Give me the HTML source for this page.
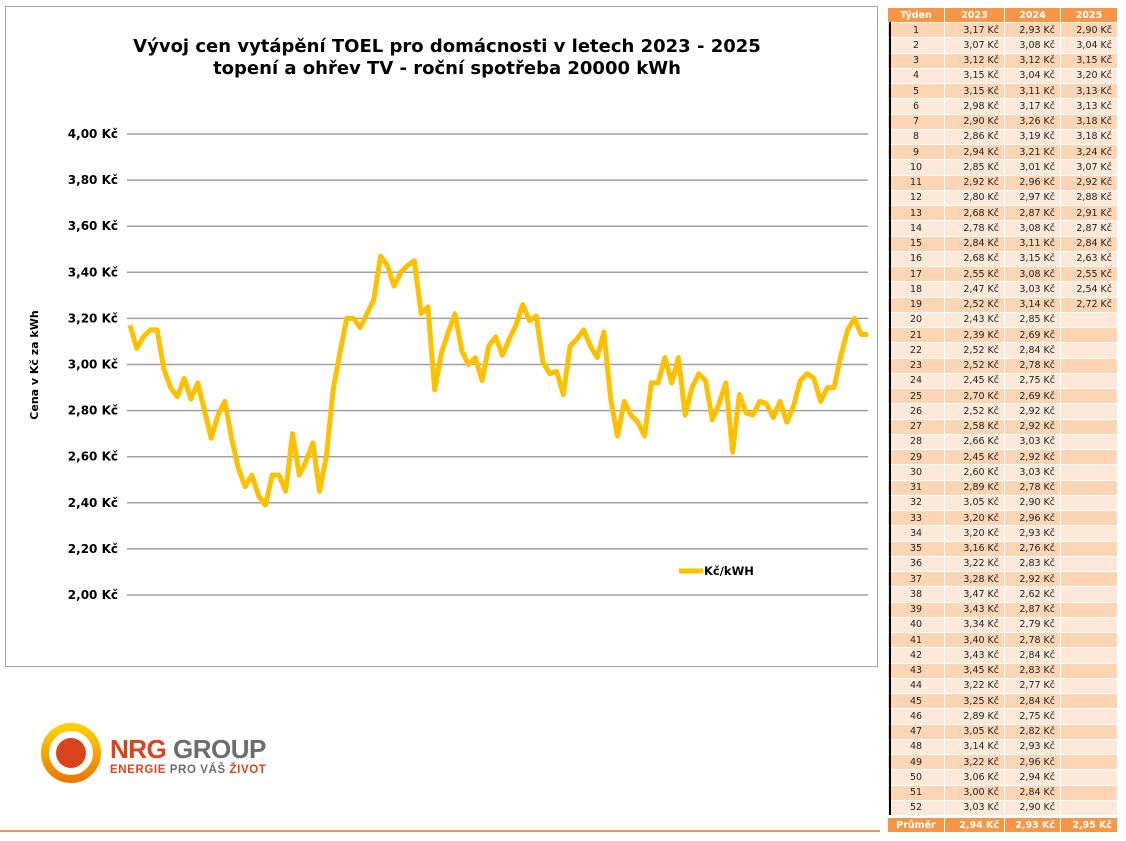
<!DOCTYPE html>
<html><head><meta charset="utf-8"><style>
body{margin:0;width:1126px;height:841px;background:#fff;position:relative;font-family:"Liberation Sans","DejaVu Sans",sans-serif;overflow:hidden}
#chartbox{position:absolute;left:5px;top:6px;width:873px;height:661px;border:1px solid #a6a6a6;box-sizing:border-box}
.cell{position:absolute;box-sizing:border-box;font-family:"DejaVu Sans",sans-serif;font-size:9.5px;color:#222;display:flex;align-items:center;justify-content:center;border-right:1px solid #fff;border-bottom:1px solid #fff}
.v{justify-content:flex-end;padding-right:5px}
.h{background:#f79646;color:#fff;font-weight:bold}
</style></head><body>
<div id="chartbox"></div>
<svg id="chart" width="880" height="670" style="position:absolute;left:0;top:0">
<text x="447" y="52" text-anchor="middle" font-family="DejaVu Sans" font-size="18" font-weight="bold" fill="#000">Vývoj cen vytápění TOEL pro domácnosti v letech 2023 - 2025</text>
<text x="447" y="74" text-anchor="middle" font-family="DejaVu Sans" font-size="18" font-weight="bold" fill="#000">topení a ohřev TV - roční spotřeba 20000 kWh</text>
<text transform="translate(38,365) rotate(-90)" text-anchor="middle" font-family="DejaVu Sans" font-size="11" font-weight="bold">Cena v Kč za kWh</text>
<g id="grid"></g><g id="yt"></g>
<polyline id="line" fill="none" stroke="#ffc000" stroke-width="5" stroke-linejoin="round"/>
<line x1="679" y1="571" x2="703" y2="571" stroke="#ffc000" stroke-width="5"/>
<text x="704" y="575" font-family="DejaVu Sans" font-size="11.5" font-weight="bold">Kč/kWH</text>
</svg>
<div id="tbl"></div>
<div style="position:absolute;left:889px;top:22px;width:2px;height:793px;background:#000"></div>
<div style="position:absolute;left:0;top:830px;width:880px;height:2px;background:#f79646"></div>
<svg style="position:absolute;left:40px;top:722px" width="62" height="62">
<defs><linearGradient id="g" x1="0" y1="0" x2="0" y2="1"><stop offset="0" stop-color="#ffd000"/><stop offset="1" stop-color="#ee7a00"/></linearGradient></defs>
<circle cx="31" cy="31" r="26" fill="none" stroke="url(#g)" stroke-width="8"/><circle cx="31" cy="31" r="15" fill="#d9441c"/></svg>
<div style="position:absolute;left:110px;top:734px;font-size:26px;font-weight:bold;letter-spacing:-0.5px"><span style="color:#d9441c">NRG</span> <span style="color:#6d6d6d">GROUP</span></div>
<div style="position:absolute;left:110px;top:764px;font-size:11.5px;font-weight:bold;letter-spacing:0.6px"><span style="color:#d9441c">ENERGIE</span> <span style="color:#6d6d6d">PRO VÁŠ</span> <span style="color:#d9441c">ŽIVOT</span></div>
<script>
const weeks2023=[3.17,3.07,3.12,3.15,3.15,2.98,2.90,2.86,2.94,2.85,2.92,2.80,2.68,2.78,2.84,2.68,2.55,2.47,2.52,2.43,2.39,2.52,2.52,2.45,2.70,2.52,2.58,2.66,2.45,2.60,2.89,3.05,3.20,3.20,3.16,3.22,3.28,3.47,3.43,3.34,3.40,3.43,3.45,3.22,3.25,2.89,3.05,3.14,3.22,3.06,3.00,3.03];
const weeks2024=[2.93,3.08,3.12,3.04,3.11,3.17,3.26,3.19,3.21,3.01,2.96,2.97,2.87,3.08,3.11,3.15,3.08,3.03,3.14,2.85,2.69,2.84,2.78,2.75,2.69,2.92,2.92,3.03,2.92,3.03,2.78,2.90,2.96,2.93,2.76,2.83,2.92,2.62,2.87,2.79,2.78,2.84,2.83,2.77,2.84,2.75,2.82,2.93,2.96,2.94,2.84,2.90];
const weeks2025=[2.90,3.04,3.15,3.20,3.13,3.13,3.18,3.18,3.24,3.07,2.92,2.88,2.91,2.87,2.84,2.63,2.55,2.54,2.72];
const chartWeeks2025=[2.90,3.04,3.15,3.20,3.13,3.13];
const averages=["2,94 Kč","2,93 Kč","2,95 Kč"];
const headers=["Týden","2023","2024","2025"];
const yTicks=[2.0,2.2,2.4,2.6,2.8,3.0,3.2,3.4,3.6,3.8,4.0];
const NS='http://www.w3.org/2000/svg';
const y=v=>595-(v-2)*230.5;
const series=weeks2023.concat(weeks2024,chartWeeks2025);
const x=i=>130+i*(868-130)/(series.length-1);
const grid=document.getElementById('grid'),yt=document.getElementById('yt');
const fmt=v=>v.toFixed(2).replace('.',',')+' Kč';
yTicks.forEach(t=>{
 const l=document.createElementNS(NS,'line');
 l.setAttribute('x1',127);l.setAttribute('x2',868);l.setAttribute('y1',y(t));l.setAttribute('y2',y(t));
 l.setAttribute('stroke','#a0a0a0');l.setAttribute('stroke-width','1.5');
 
 
 grid.appendChild(l);
 const tx=document.createElementNS(NS,'text');
 tx.setAttribute('x',118);tx.setAttribute('y',y(t)+4);tx.setAttribute('text-anchor','end');
 tx.setAttribute('font-family','DejaVu Sans');
 tx.setAttribute('font-size','12');tx.setAttribute('font-weight','bold');
 tx.textContent=fmt(t);
 
 
 yt.appendChild(tx);
});
document.getElementById('line').setAttribute('points',series.map((v,i)=>x(i).toFixed(1)+','+y(v).toFixed(1)).join(' '));
const tbl=document.getElementById('tbl');
const colX=[888,945,1005,1061,1118];
function cell(txt,ci,top,h,cls,bg){
 const d=document.createElement('div');
 d.className='cell '+cls;
 d.style.left=colX[ci]+'px';d.style.top=top+'px';
 d.style.width=(colX[ci+1]-colX[ci])+'px';d.style.height=h+'px';
 if(bg)d.style.background=bg;
 d.textContent=txt;
 
 
 tbl.appendChild(d);
}
headers.forEach((s,j)=>cell(s,j,8,15,'h',''));
for(let i=0;i<52;i++){
 const top=23+i*15.25;
 const bg=i%2?'#fde9d9':'#fcd5b4';
 const c=[String(i+1),fmt(weeks2023[i]),fmt(weeks2024[i]),weeks2025[i]!==undefined?fmt(weeks2025[i]):''];
 c.forEach((s,j)=>cell(s,j,top,15.25,j?'v':'',bg));
}
['Průměr'].concat(averages).forEach((s,j)=>cell(s,j,818,15,j?'h v':'h',''));
</script>
</body></html>
